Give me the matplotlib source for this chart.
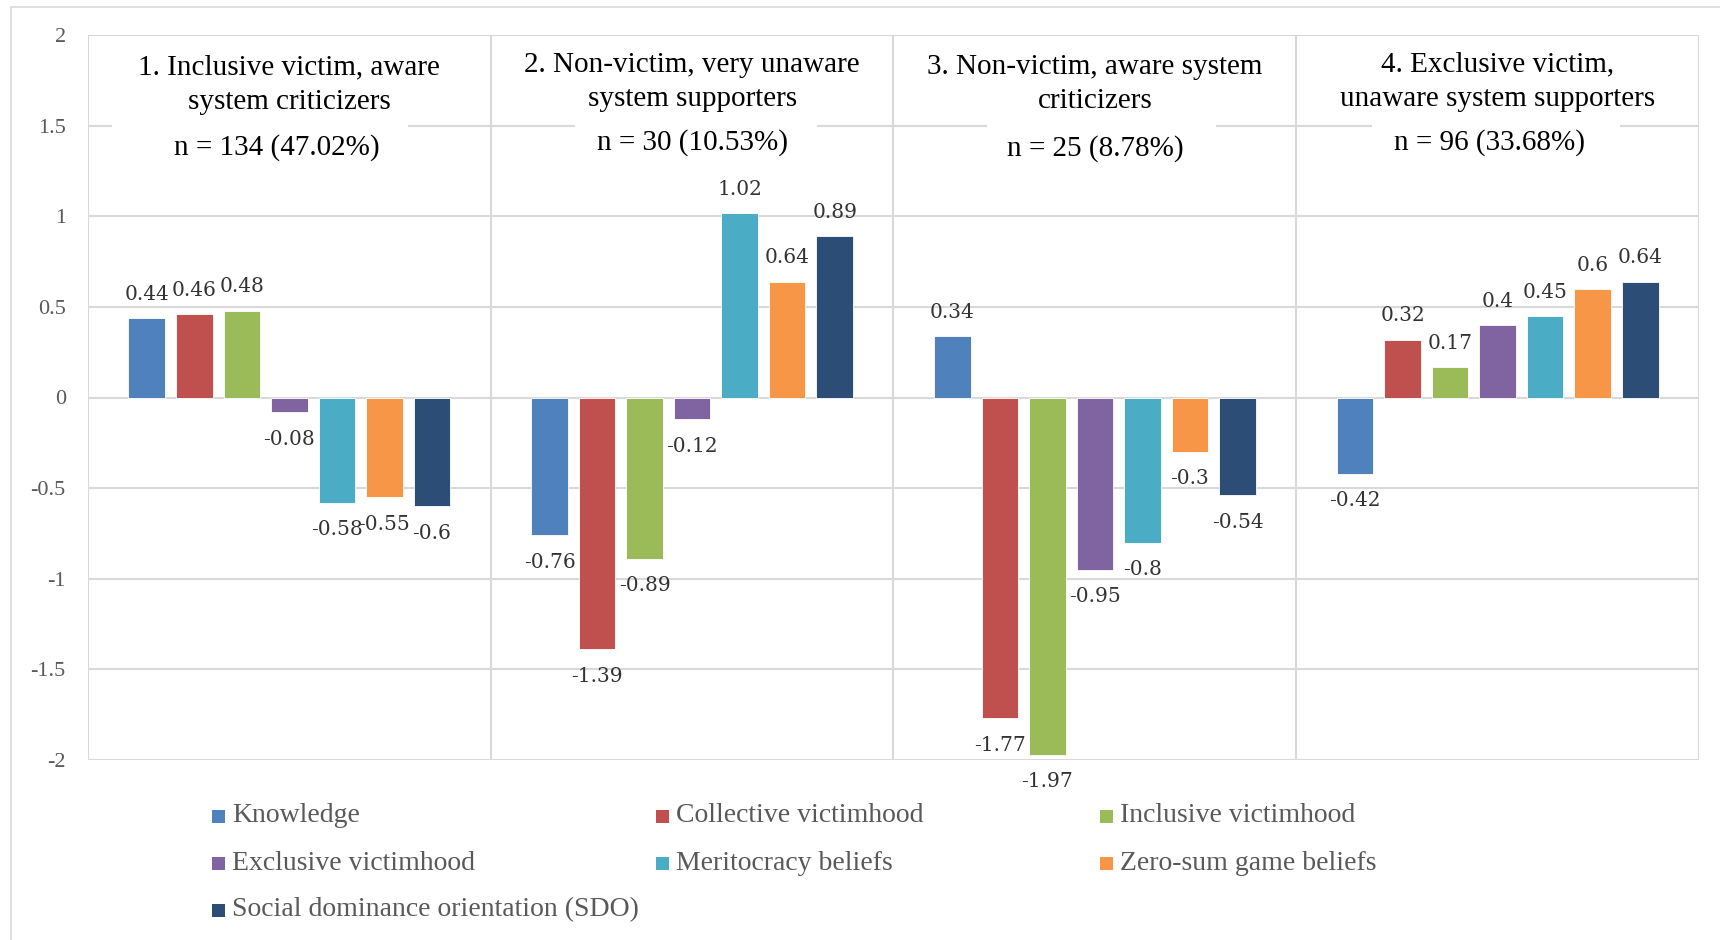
import matplotlib
matplotlib.use("Agg")
import matplotlib.pyplot as plt
from matplotlib.patches import Rectangle
import numpy as np

# ---- data -------------------------------------------------------------
groups = [
    "1. Inclusive victim, aware\nsystem criticizers",
    "2. Non-victim, very unaware\nsystem supporters",
    "3. Non-victim, aware system\ncriticizers",
    "4. Exclusive victim,\nunaware system supporters",
]
group_n = ["n = 134 (47.02%)", "n = 30 (10.53%)", "n = 25 (8.78%)", "n = 96 (33.68%)"]

series = [
    "Knowledge",
    "Collective victimhood",
    "Inclusive victimhood",
    "Exclusive victimhood",
    "Meritocracy beliefs",
    "Zero-sum game beliefs",
    "Social dominance orientation (SDO)",
]
knowledge = [0.44, -0.76, 0.34, -0.42]
collective = [0.46, -1.39, -1.77, 0.32]
inclusive = [0.48, -0.89, -1.97, 0.17]
exclusive = [-0.08, -0.12, -0.95, 0.40]
meritocracy = [-0.58, 1.02, -0.80, 0.45]
zero_sum = [-0.55, 0.64, -0.30, 0.60]
sdo = [-0.60, 0.89, -0.54, 0.64]
values = [knowledge, collective, inclusive, exclusive, meritocracy, zero_sum, sdo]

y_ticks = [2, 1.5, 1, 0.5, 0, -0.5, -1, -1.5, -2]
y_tick_labels = ["2", "1.5", "1", "0.5", "0", "-0.5", "-1", "-1.5", "-2"]

colors = ["#4F81BD", "#C0504D", "#9BBB59", "#8064A2", "#4BACC6", "#F79646", "#2C4D75"]

# ---- figure -----------------------------------------------------------
W, H = 1720, 940
fig = plt.figure(figsize=(W / 100, H / 100), dpi=100)
ax = fig.add_axes([88 / W, 180 / H, (1699 - 88) / W, (760 - 35) / H])

grid_c = "#D9D9D9"
serif = "Liberation Serif"
label_font = "DejaVu Serif"

x = np.arange(len(groups))
pitch = 0.118
bar_w = 0.091
for i, (name, vals, c) in enumerate(zip(series, values, colors)):
    xs = x + (i - 3) * pitch
    ax.bar(xs, vals, width=bar_w, color=c, edgecolor="white", linewidth=0.6,
           zorder=3, label=name)
    for xi, v in zip(xs, vals):
        off = 17 if v >= 0 else -19.5
        ax.annotate(f"{v:g}", (xi, v), xytext=(0, off), textcoords="offset points",
                    ha="center", va="center", fontsize=14.5, family=label_font,
                    color="#333333", zorder=5)

ax.set_xlim(-0.5, 3.5)
ax.set_ylim(-2, 2)
ax.set_yticks(y_ticks)
ax.set_yticklabels(y_tick_labels, family=serif, fontsize=16, color="#595959")
ax.tick_params(axis="y", length=0, pad=16)
ax.set_xticks([])
for s in ax.spines.values():
    s.set_visible(False)

# horizontal gridlines and category separators
for t in y_ticks:
    ax.axhline(t, color=grid_c, lw=1.5, zorder=1)
for b in np.arange(-0.5, 4.0, 1.0):
    ax.axvline(b, color=grid_c, lw=1.5, zorder=1)

# group headers with white text boxes
title_y = [1.725, 1.742, 1.731, 1.742]
n_x = [-0.03, 0.0, 0.0, -0.02]
n_y = [1.377, 1.404, 1.371, 1.404]
box_x = [-0.073, 1.009, 2.016, 2.996]
box_w = [0.734, 0.60, 0.57, 0.615]
for g in range(len(groups)):
    ax.add_patch(Rectangle((box_x[g] - box_w[g] / 2, 1.45), box_w[g], 0.1,
                           facecolor="white", edgecolor="none", zorder=2))
    ax.text(g, title_y[g], groups[g], ha="center", va="center", fontsize=21,
            family=serif, color="black", linespacing=1.42, zorder=4)
    ax.text(g + n_x[g], n_y[g], group_n[g], ha="center", va="center", fontsize=21,
            family=serif, color="black", zorder=4)

# legend, three entries per row
leg_x = [212, 656, 1100]
leg_y = [816, 863, 910]
sq = 13
for i, (name, c) in enumerate(zip(series, colors)):
    r, col = divmod(i, 3)
    px, py = leg_x[col], leg_y[r]
    fig.add_artist(Rectangle((px / W, 1 - (py + sq / 2) / H), sq / W, sq / H,
                             transform=fig.transFigure, facecolor=c,
                             edgecolor="none"))
    fig.text((px + 20) / W, 1 - py / H, name, ha="left", va="center",
             fontsize=20, family=serif, color="#595959")

# chart area border
fig.add_artist(Rectangle((11 / W, -0.05), 1.2, 1 - 7 / H + 0.05,
                         transform=fig.transFigure, facecolor="none",
                         edgecolor=grid_c, lw=1.2))

fig.savefig("out.png", dpi=100)
